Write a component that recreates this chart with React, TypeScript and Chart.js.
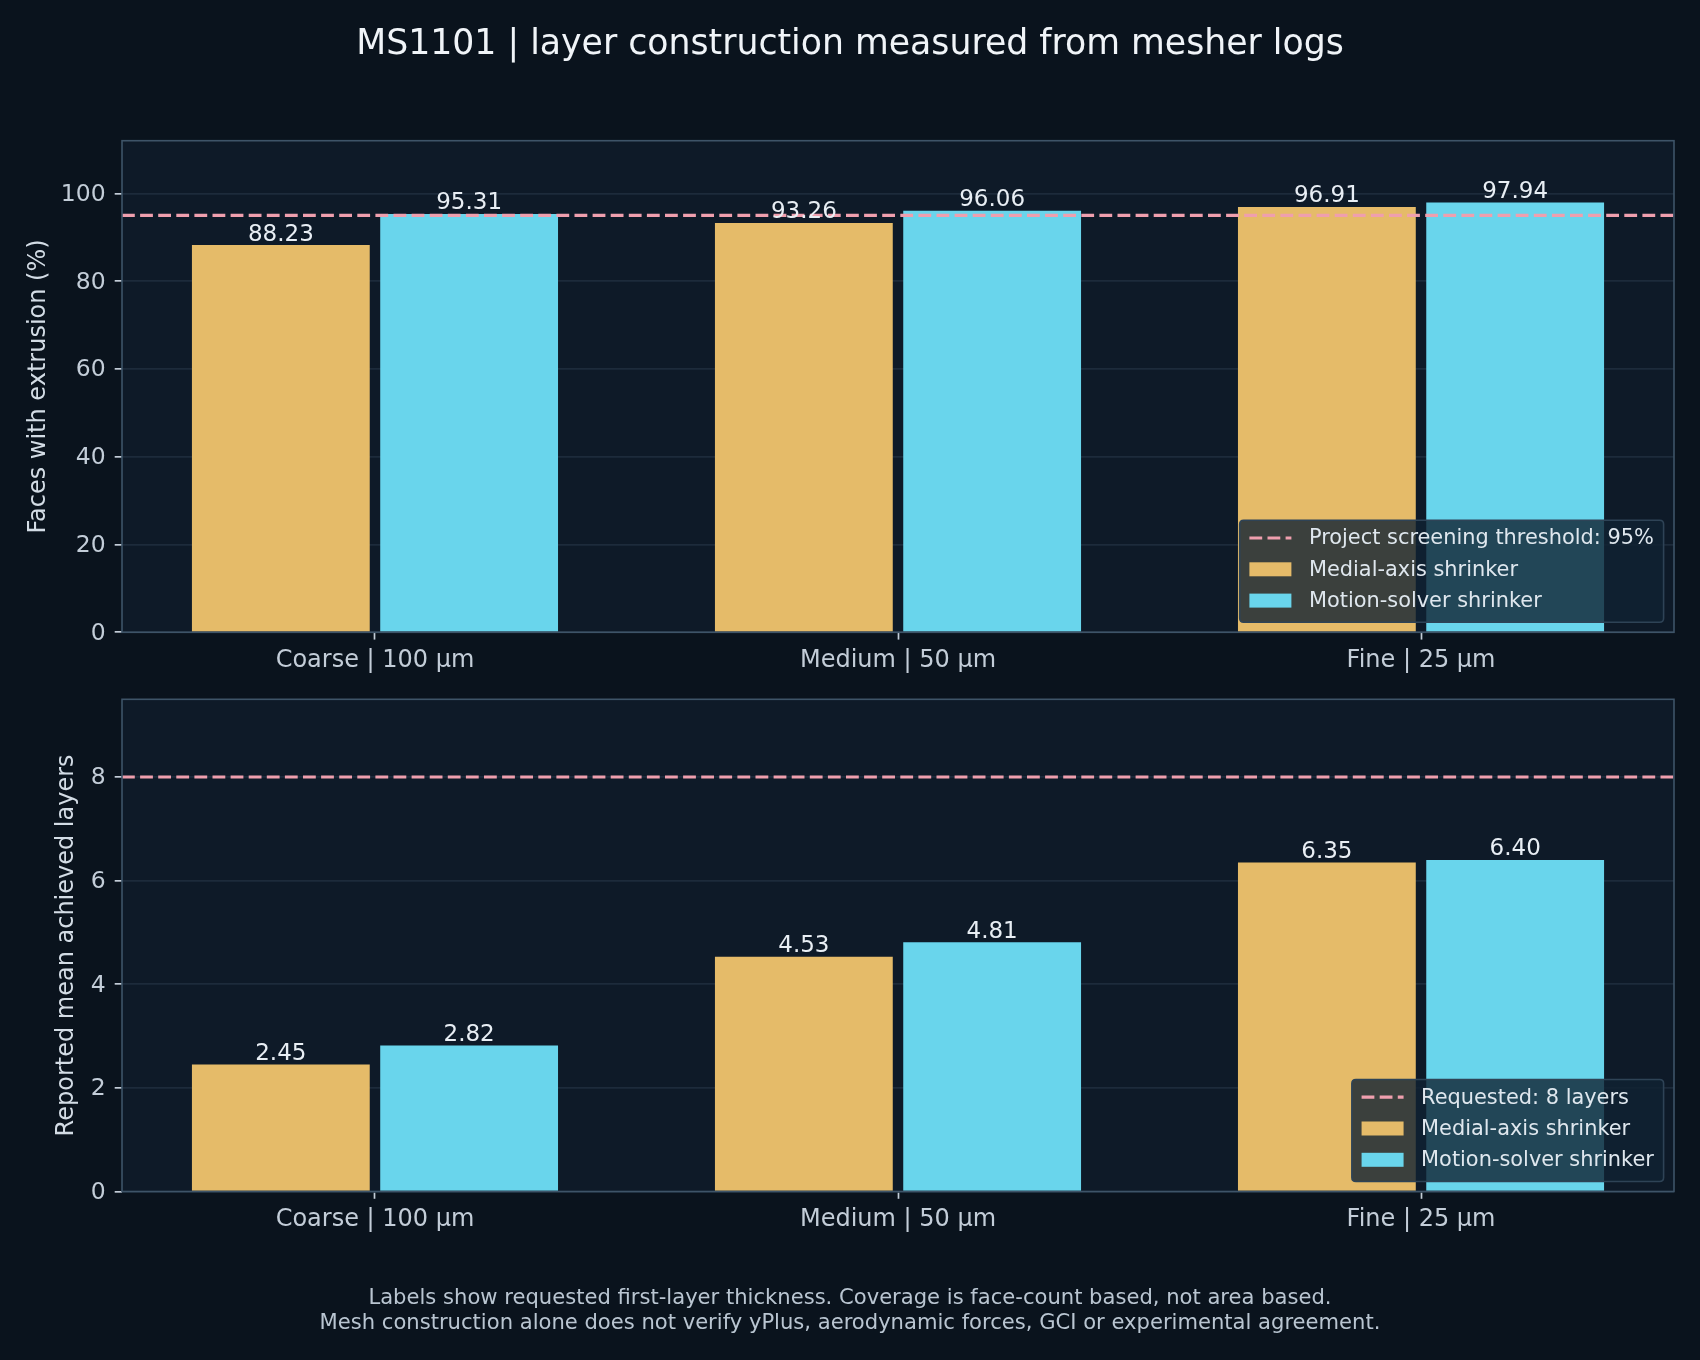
import React, { useEffect, useRef } from "react";
import { Chart, registerables } from "chart.js";

Chart.register(...registerables);

// ---------------- data ----------------
const categories = ["Coarse | 100 µm", "Medium | 50 µm", "Fine | 25 µm"];
const seriesNames = ["Medial-axis shrinker", "Motion-solver shrinker"];
const coverageMedial = [88.23, 93.26, 96.91];
const coverageMotion = [95.31, 96.06, 97.94];
const layersMedial = [2.45, 4.53, 6.35];
const layersMotion = [2.82, 4.81, 6.4];
const coverageThreshold = 95;
const requestedLayers = 8;
const coverageTicks = [0, 20, 40, 60, 80, 100];
const layerTicks = [0, 2, 4, 6, 8];
const coverageMax = 112;
const layersMax = 9.5;
const thresholdLabels = ["Project screening threshold: 95%", "Requested: 8 layers"];
const yTitles = ["Faces with extrusion (%)", "Reported mean achieved layers"];
const titleText = "MS1101 | layer construction measured from mesher logs";
const footerLines = [
  "Labels show requested first-layer thickness. Coverage is face-count based, not area based.",
  "Mesh construction alone does not verify yPlus, aerodynamic forces, GCI or experimental agreement.",
];

// ---------------- style ----------------
const FONT = '"DejaVu Sans", "Noto Sans", sans-serif';
const PAGE_BG = "#0a131d";
const PLOT_BG = "#0e1a28";
const GRID = "#1d2b3b";
const SPINE = "#3e5468";
const TICK_MARK = "#c3cdd8";
const TICK_TEXT = "#c3cdd8";
const LABEL_TEXT = "#d3dce5";
const BAR_TEXT = "#e8eef4";
const ORANGE = "#e5bb69";
const CYAN = "#69d5ec";
const PINK = "#ef9fae";
const W = 1700;
const PAGE_H = 1360;
const TOP1 = 0;
const H1 = 680;
const TOP2 = 640;
const H2 = PAGE_H - TOP2;

type PanelSpec = {
  a: number[];
  b: number[];
  yMax: number;
  ticks: number[];
  threshold: number;
  thresholdLabel: string;
  yTitle: string;
  titlePad: number;
  padTop: number;
  xHeight: number;
  extra: (ctx: CanvasRenderingContext2D) => void;
};

function drawLegend(ctx: CanvasRenderingContext2D, area: any, labels: string[]) {
  ctx.save();
  ctx.font = `20.9px ${FONT}`;
  const textW = Math.max(...labels.map((l) => ctx.measureText(l).width));
  const pad = 9.7;
  const handle = 42;
  const gap = 17.5;
  const w = pad + handle + gap + textW + pad;
  const h = 102;
  const right = area.right - 10.4;
  const bottom = area.bottom - 10;
  const left = right - w;
  const top = bottom - h;
  ctx.beginPath();
  const r = 4;
  ctx.moveTo(left + r, top);
  ctx.lineTo(right - r, top);
  ctx.quadraticCurveTo(right, top, right, top + r);
  ctx.lineTo(right, bottom - r);
  ctx.quadraticCurveTo(right, bottom, right - r, bottom);
  ctx.lineTo(left + r, bottom);
  ctx.quadraticCurveTo(left, bottom, left, bottom - r);
  ctx.lineTo(left, top + r);
  ctx.quadraticCurveTo(left, top, left + r, top);
  ctx.closePath();
  ctx.fillStyle = "rgba(16,34,50,0.8)";
  ctx.fill();
  ctx.strokeStyle = "#2e4356";
  ctx.lineWidth = 1.6;
  ctx.stroke();
  const colors = [PINK, ORANGE, CYAN];
  labels.forEach((label, i) => {
    const cy = top + 17.7 + i * 31.3;
    const hx = left + pad;
    if (i === 0) {
      ctx.save();
      ctx.strokeStyle = PINK;
      ctx.lineWidth = 3.2;
      ctx.setLineDash([12.8, 5.3]);
      ctx.beginPath();
      ctx.moveTo(hx, cy);
      ctx.lineTo(hx + handle, cy);
      ctx.stroke();
      ctx.restore();
    } else {
      ctx.fillStyle = colors[i];
      ctx.fillRect(hx, cy - 7, handle, 14);
    }
    ctx.fillStyle = "#dfe7ee";
    ctx.textAlign = "left";
    ctx.textBaseline = "middle";
    ctx.fillText(label, hx + handle + gap, cy + 1);
  });
  ctx.restore();
}

function makeConfig(spec: PanelSpec): any {
  const decor = {
    id: "decor",
    beforeDraw(chart: any) {
      const { ctx, chartArea: a } = chart;
      ctx.save();
      ctx.fillStyle = PLOT_BG;
      ctx.fillRect(a.left, a.top, a.right - a.left, a.bottom - a.top);
      ctx.restore();
    },
    afterDatasetsDraw(chart: any) {
      const { ctx, chartArea: a } = chart;
      const yScale = chart.scales.y;
      // threshold line
      const ty = yScale.getPixelForValue(spec.threshold);
      ctx.save();
      ctx.strokeStyle = PINK;
      ctx.lineWidth = 3.2;
      ctx.setLineDash([12.8, 5.3]);
      ctx.beginPath();
      ctx.moveTo(a.left, ty);
      ctx.lineTo(a.right, ty);
      ctx.stroke();
      ctx.restore();
      // spines
      ctx.save();
      ctx.strokeStyle = SPINE;
      ctx.lineWidth = 1.6;
      ctx.strokeRect(a.left, a.top, a.right - a.left, a.bottom - a.top);
      ctx.restore();
      // bar labels
      ctx.save();
      ctx.font = `23px ${FONT}`;
      ctx.fillStyle = BAR_TEXT;
      ctx.textAlign = "center";
      ctx.textBaseline = "alphabetic";
      chart.data.datasets.forEach((ds: any, di: number) => {
        const meta = chart.getDatasetMeta(di);
        meta.data.forEach((bar: any, i: number) => {
          const v = ds.data[i].y;
          ctx.fillText(v.toFixed(2), bar.x, bar.y - 4.5);
        });
      });
      ctx.restore();
    },
    afterDraw(chart: any) {
      const { ctx, chartArea: a } = chart;
      drawLegend(ctx, a, [spec.thresholdLabel, ...seriesNames]);
      spec.extra(ctx);
    },
  };

  return {
    type: "bar",
    data: {
      datasets: [
        {
          label: seriesNames[0],
          data: spec.a.map((v, i) => ({ x: i, y: v })),
          backgroundColor: ORANGE,
          borderWidth: 0,
          categoryPercentage: 0.72,
          barPercentage: 0.9444,
        },
        {
          label: seriesNames[1],
          data: spec.b.map((v, i) => ({ x: i, y: v })),
          backgroundColor: CYAN,
          borderWidth: 0,
          categoryPercentage: 0.72,
          barPercentage: 0.9444,
        },
      ],
    },
    options: {
      responsive: false,
      maintainAspectRatio: false,
      animation: false,
      events: [],
      layout: { padding: { top: spec.padTop, right: 26, left: 0, bottom: 0 } },
      plugins: {
        legend: { display: false },
        title: { display: false },
        tooltip: { enabled: false },
      },
      scales: {
        x: {
          type: "linear",
          min: -0.4837,
          max: 2.4837,
          offset: false,
          afterBuildTicks: (scale: any) => {
            scale.ticks = categories.map((_, i) => ({ value: i }));
          },
          afterFit: (scale: any) => {
            scale.height = spec.xHeight;
          },
          grid: {
            display: true,
            drawOnChartArea: false,
            drawTicks: true,
            tickLength: 7.3,
            tickWidth: 1.7,
            tickColor: TICK_MARK,
            offset: false,
          },
          border: { display: false },
          ticks: {
            autoSkip: false,
            maxRotation: 0,
            padding: 6.5,
            color: TICK_TEXT,
            font: { family: FONT, size: 24 },
            callback: (v: any) => categories[Math.round(Number(v))] ?? "",
          },
        },
        y: {
          type: "linear",
          min: 0,
          max: spec.yMax,
          afterBuildTicks: (scale: any) => {
            scale.ticks = spec.ticks.map((v) => ({ value: v }));
          },
          afterFit: (scale: any) => {
            scale.width = 122;
          },
          grid: {
            color: GRID,
            lineWidth: 1.7,
            drawTicks: true,
            tickLength: 7.3,
            tickWidth: 1.7,
            tickColor: TICK_MARK,
          },
          border: { display: false },
          ticks: {
            padding: 9,
            labelOffset: 1.3,
            color: TICK_TEXT,
            font: { family: FONT, size: 23.5 },
            callback: (v: any) => String(v),
          },
          title: {
            display: true,
            text: spec.yTitle,
            color: LABEL_TEXT,
            font: { family: FONT, size: 24, lineHeight: 1.2 },
            padding: { top: spec.titlePad, bottom: 0 },
          },
        },
      },
    },
    plugins: [decor],
  };
}

function Panel({ spec, top, height }: { spec: PanelSpec; top: number; height: number }) {
  const ref = useRef<HTMLCanvasElement | null>(null);
  useEffect(() => {
    if (!ref.current) return;
    const chart = new Chart(ref.current, makeConfig(spec));
    return () => chart.destroy();
  }, []);
  return (
    <canvas
      ref={ref}
      width={W}
      height={height}
      style={{ position: "absolute", left: 0, top, width: W, height }}
    />
  );
}

const topSpec: PanelSpec = {
  a: coverageMedial,
  b: coverageMotion,
  yMax: coverageMax,
  ticks: coverageTicks,
  threshold: coverageThreshold,
  thresholdLabel: thresholdLabels[0],
  yTitle: yTitles[0],
  titlePad: 24.1,
  padTop: 140.7 - TOP1,
  xHeight: TOP1 + H1 - 632.3,
  extra: (ctx) => {
    ctx.save();
    ctx.font = `34.7px ${FONT}`;
    ctx.fillStyle = "#f0f4f8";
    ctx.textAlign = "center";
    ctx.textBaseline = "alphabetic";
    ctx.fillText(titleText, W / 2, 54 - TOP1);
    ctx.restore();
  },
};

const bottomSpec: PanelSpec = {
  a: layersMedial,
  b: layersMotion,
  yMax: layersMax,
  ticks: layerTicks,
  threshold: requestedLayers,
  thresholdLabel: thresholdLabels[1],
  yTitle: yTitles[1],
  titlePad: 52.3,
  padTop: 699.3 - TOP2,
  xHeight: TOP2 + H2 - 1191.5,
  extra: (ctx) => {
    ctx.save();
    ctx.font = `21.1px ${FONT}`;
    ctx.fillStyle = "#b9c5d1";
    ctx.textAlign = "center";
    ctx.textBaseline = "alphabetic";
    ctx.fillText(footerLines[0], W / 2, 1304 - TOP2);
    ctx.fillText(footerLines[1], W / 2, 1329.3 - TOP2);
    ctx.restore();
  },
};

export default function App() {
  return (
    <div
      style={{
        position: "absolute",
        left: 0,
        top: 0,
        width: W,
        height: PAGE_H,
        background: PAGE_BG,
        overflow: "hidden",
      }}
    >
      <Panel spec={topSpec} top={TOP1} height={H1} />
      <Panel spec={bottomSpec} top={TOP2} height={H2} />
    </div>
  );
}
